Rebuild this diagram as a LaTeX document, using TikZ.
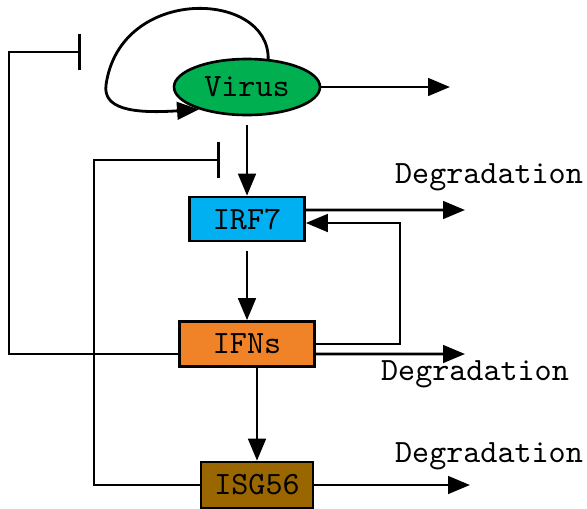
\documentclass[tikz,border=0pt]{standalone}
\usepackage{fontspec}
\usetikzlibrary{shapes.geometric,arrows.meta}
\newfontfamily\labelfont{lmmono10-regular}[Extension=.otf]
\definecolor{virusgreen}{RGB}{0,176,80}
\definecolor{irfblue}{RGB}{0,176,240}
\definecolor{ifnorange}{RGB}{240,130,40}
\definecolor{isgbrown}{RGB}{153,102,0}
\tikzset{
  txt/.style={font=\labelfont\fontsize{18.5}{20}\selectfont},
  box/.style={draw, line width=1.5pt, inner sep=0pt, txt},
  arr/.style={line width=1.6pt, -{Triangle[length=12.5pt,width=10pt]}},
  inh/.style={line width=1.6pt, -{Bar[width=21pt]}}
}
\begin{document}
\begin{tikzpicture}[x=0.02cm, y=-0.02cm]
\useasboundingbox (0,0) rectangle (587,508);
% nodes
\node[box, ellipse, fill=virusgreen, minimum width=2.92cm, minimum height=1.12cm] (virus) at (247,87) {Virus};
\node[box, fill=irfblue, minimum width=2.3cm, minimum height=0.88cm] (irf7) at (247,219) {IRF7};
\node[box, fill=ifnorange, minimum width=2.7cm, minimum height=0.9cm] (ifns) at (247,344) {IFNs};
\node[box, fill=isgbrown, minimum width=2.24cm, minimum height=0.92cm] (isg56) at (257,485) {ISG56};
\node[txt] (deg1) at (489,177) {Degradation};
\node[txt] (deg2) at (475,374) {Degradation};
\node[txt] (deg3) at (489,456) {Degradation};
\coordinate (vout) at (450,87);
\coordinate (d1) at (465,210);
\coordinate (d2) at (465,354);
\coordinate (d3) at (470,485);
\coordinate (fb) at (400,223);
\coordinate (c1) at (9,52);
\coordinate (bar1) at (81,52);
\coordinate (c2) at (94,160);
\coordinate (bar2) at (220,160);
% virus
\draw[arr] (virus.53) .. controls (269,-10) and (120,-15) .. (106,85)
  .. controls (103,108) and (130,114) .. (virus.205);
\draw[arr] (virus.east) -- (vout);
\draw[arr, shorten <=5pt] (virus.south) -- (irf7.north);
% IRF7 and IFNs
\draw[arr] ([yshift=0.18cm]irf7.east) -- (d1);
\draw[arr, shorten <=5pt] (irf7.south) -- (ifns.north);
\draw[arr] (ifns.east) -| (fb) -- (fb -| irf7.east);
\draw[arr] ([yshift=-0.2cm]ifns.east) -- (d2);
\draw[arr] (isg56.north |- ifns.south) -- (isg56.north);
\draw[arr] (isg56.east) -- (d3);
% inhibition
\draw[inh] ([yshift=-0.2cm]ifns.west) -| (c1) -- (bar1);
\draw[inh] (isg56.west) -| (c2) -- (bar2);
\end{tikzpicture}
\end{document}
